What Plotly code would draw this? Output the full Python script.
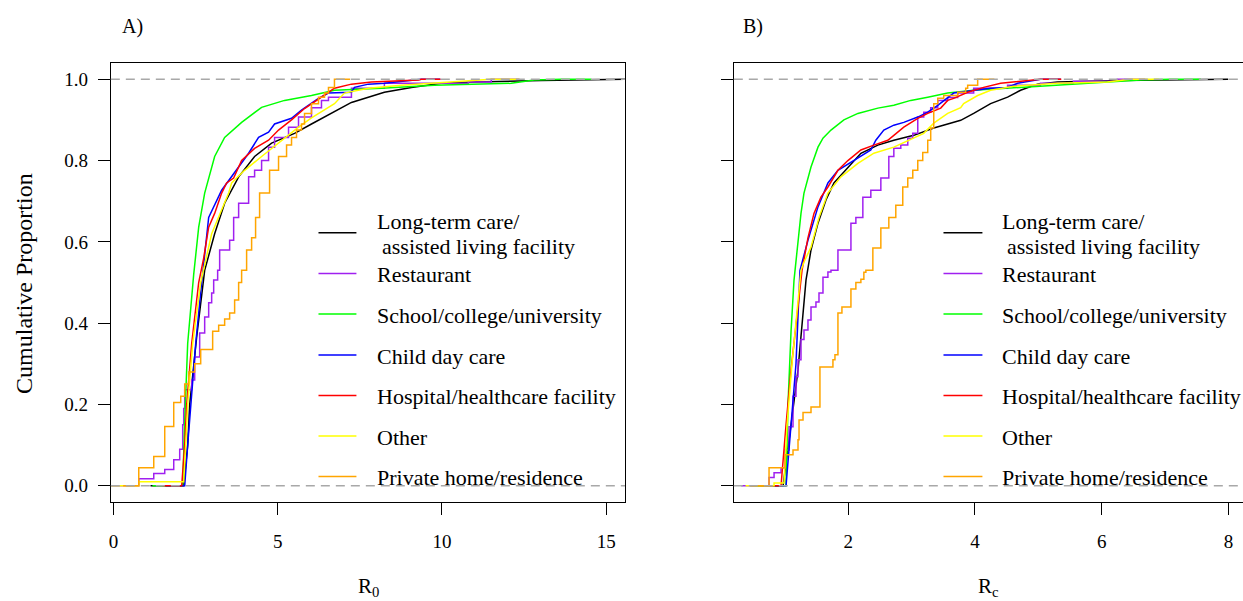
import plotly.graph_objects as go

W, H = 1243, 601
FONT = "Liberation Serif"

LABELS = ["Long-term care/", "Restaurant", "School/college/university", "Child day care",
          "Hospital/healthcare facility", "Other", "Private home/residence"]
LABEL_LINE2 = "assisted living facility"
COLORS = ["#000000", "#A020F0", "#00FF00", "#0000FF", "#FF0000", "#FFFF00", "#FFA500"]
SHAPES = ["linear", "hv", "linear", "linear", "linear", "linear", "hv"]

Y_TICKS = [0.0, 0.2, 0.4, 0.6, 0.8, 1.0]
Y_TICK_TEXT = ["0.0", "0.2", "0.4", "0.6", "0.8", "1.0"]
A_X_TICKS = [0, 5, 10, 15]
B_X_TICKS = [2, 4, 6, 8]

# ---------------- Panel A (R0) ----------------
A_LTC_X = [2.140, 2.261, 2.322, 2.535, 2.778, 3.082, 3.386, 3.812, 4.298, 4.815, 5.514, 6.030, 6.638, 7.246, 8.249, 9.070, 9.982, 10.985, 13.021, 14.784]
A_LTC_Y = [0.0, 0.10, 0.20, 0.366, 0.53, 0.62, 0.695, 0.76, 0.81, 0.843, 0.867, 0.89, 0.916, 0.943, 0.968, 0.98, 0.99, 0.993, 0.997, 1.0]

A_REST_X = [0.772, 1.228, 1.562, 1.836, 2.018, 2.109, 2.140, 2.170, 2.383, 2.474, 2.626, 2.778, 2.900, 2.991, 3.052, 3.173, 3.234, 3.538, 3.660, 3.812, 4.116, 4.298, 4.511, 4.723, 4.906, 5.331, 5.635, 6.030, 6.334, 6.547, 7.246, 8.249, 10.802, 11.502]
A_REST_Y = [0.017, 0.03, 0.04, 0.064, 0.09, 0.15, 0.19, 0.236, 0.26, 0.317, 0.376, 0.415, 0.45, 0.474, 0.506, 0.53, 0.58, 0.604, 0.66, 0.695, 0.76, 0.776, 0.80, 0.833, 0.857, 0.882, 0.907, 0.93, 0.948, 0.956, 0.978, 0.99, 0.993, 1.0]

A_SCH_X = [2.109, 2.170, 2.261, 2.444, 2.596, 2.778, 3.082, 3.386, 3.903, 4.511, 5.210, 6.030, 6.729, 8.158, 9.769, 12.109, 12.809, 13.629]
A_SCH_Y = [0.0, 0.16, 0.35, 0.52, 0.636, 0.72, 0.81, 0.857, 0.894, 0.931, 0.948, 0.96, 0.973, 0.978, 0.985, 0.99, 0.998, 1.0]

A_CDC_X = [2.170, 2.261, 2.353, 2.505, 2.687, 2.900, 3.295, 3.599, 4.116, 4.419, 4.723, 4.906, 5.422, 5.726, 6.243, 6.547, 7.246, 7.337, 7.763, 8.249, 9.283, 9.374]
A_CDC_Y = [0.0, 0.10, 0.20, 0.35, 0.50, 0.66, 0.727, 0.76, 0.818, 0.857, 0.87, 0.89, 0.904, 0.924, 0.953, 0.966, 0.968, 0.98, 0.988, 0.99, 0.998, 1.0]

A_HOSP_X = [2.079, 2.170, 2.231, 2.383, 2.596, 2.748, 2.900, 3.082, 3.295, 3.447, 3.660, 3.903, 4.298, 4.723, 5.027, 5.422, 5.818, 6.334, 6.729, 7.246, 7.854, 9.283, 9.374]
A_HOSP_Y = [0.0, 0.10, 0.20, 0.35, 0.50, 0.56, 0.636, 0.67, 0.72, 0.745, 0.757, 0.80, 0.83, 0.85, 0.875, 0.90, 0.928, 0.956, 0.978, 0.988, 0.993, 0.998, 1.0]

A_OTH_X = [0.772, 2.140, 2.201, 2.261, 2.413, 2.657, 2.991, 3.508, 3.599, 3.994, 4.511, 5.119, 5.635, 6.030, 6.426, 6.729, 7.033, 7.763, 8.766, 10.286, 11.502]
A_OTH_Y = [0.01, 0.01, 0.10, 0.20, 0.35, 0.50, 0.62, 0.72, 0.745, 0.776, 0.81, 0.85, 0.882, 0.905, 0.926, 0.94, 0.966, 0.978, 0.985, 0.993, 1.0]

A_PRIV_X = [0.772, 1.228, 1.562, 1.836, 2.049, 2.170, 2.292, 2.474, 2.657, 3.021, 3.204, 3.386, 3.538, 3.690, 3.812, 3.903, 4.055, 4.207, 4.328, 4.450, 4.754, 5.027, 5.271, 5.422, 5.574, 5.726, 5.818, 6.030, 6.243, 6.426, 6.547, 6.729]
A_PRIV_Y = [0.044, 0.072, 0.146, 0.205, 0.22, 0.25, 0.28, 0.30, 0.335, 0.38, 0.395, 0.41, 0.425, 0.457, 0.50, 0.53, 0.58, 0.61, 0.66, 0.72, 0.776, 0.81, 0.838, 0.857, 0.875, 0.89, 0.916, 0.94, 0.956, 0.966, 0.98, 1.0]

# ---------------- Panel B (Rc) ----------------
B_LTC_X = [0.972, 1.098, 1.208, 1.334, 1.413, 1.523, 1.649, 1.775, 1.995, 2.200, 2.468, 2.720, 3.035, 3.350, 3.570, 3.775, 3.980, 4.247, 4.515, 4.720, 4.987, 5.302, 6.294, 7.476]
B_LTC_Y = [0.0, 0.15, 0.285, 0.506, 0.58, 0.646, 0.703, 0.745, 0.784, 0.818, 0.838, 0.85, 0.862, 0.88, 0.89, 0.899, 0.916, 0.94, 0.956, 0.973, 0.988, 0.993, 0.997, 1.0]

B_REST_X = [0.751, 0.830, 0.940, 1.003, 1.066, 1.129, 1.176, 1.208, 1.255, 1.302, 1.365, 1.413, 1.491, 1.539, 1.602, 1.680, 1.728, 1.838, 2.043, 2.121, 2.231, 2.357, 2.515, 2.641, 2.720, 2.830, 2.940, 3.019, 3.098, 3.192, 3.302, 3.413, 3.570, 3.728, 3.980, 4.515, 5.035, 5.554, 6.247]
B_REST_Y = [0.02, 0.032, 0.044, 0.088, 0.145, 0.22, 0.268, 0.31, 0.36, 0.383, 0.408, 0.44, 0.452, 0.474, 0.513, 0.526, 0.53, 0.58, 0.646, 0.66, 0.71, 0.727, 0.757, 0.81, 0.83, 0.838, 0.855, 0.867, 0.907, 0.919, 0.93, 0.948, 0.955, 0.966, 0.978, 0.985, 0.99, 0.995, 1.0]

B_SCH_X = [1.019, 1.050, 1.098, 1.145, 1.208, 1.255, 1.302, 1.413, 1.523, 1.602, 1.728, 1.932, 2.153, 2.468, 2.720, 2.987, 3.255, 3.570, 3.980, 4.767, 5.554, 6.090, 6.609, 7.082]
B_SCH_Y = [0.0, 0.20, 0.38, 0.506, 0.597, 0.67, 0.72, 0.784, 0.833, 0.855, 0.875, 0.90, 0.916, 0.929, 0.936, 0.948, 0.956, 0.966, 0.973, 0.98, 0.988, 0.993, 0.998, 1.0]

B_CDC_X = [1.019, 1.098, 1.176, 1.239, 1.365, 1.523, 1.680, 1.838, 2.090, 2.357, 2.436, 2.562, 2.720, 2.877, 3.098, 3.255, 3.413, 3.570, 3.665, 4.247, 4.515, 4.672, 5.035]
B_CDC_Y = [0.0, 0.15, 0.30, 0.53, 0.604, 0.686, 0.745, 0.776, 0.80, 0.826, 0.85, 0.875, 0.887, 0.894, 0.907, 0.919, 0.936, 0.956, 0.966, 0.978, 0.98, 0.99, 1.0]

B_HOSP_X = [0.940, 1.019, 1.098, 1.271, 1.365, 1.460, 1.570, 1.680, 1.838, 1.995, 2.200, 2.405, 2.625, 2.720, 2.877, 3.098, 3.255, 3.460, 3.570, 3.665, 3.885, 4.137, 4.405, 5.035]
B_HOSP_Y = [0.0, 0.15, 0.285, 0.53, 0.61, 0.67, 0.71, 0.735, 0.776, 0.80, 0.826, 0.838, 0.85, 0.862, 0.882, 0.904, 0.916, 0.929, 0.948, 0.953, 0.968, 0.98, 0.99, 1.0]

B_OTH_X = [0.830, 0.987, 1.035, 1.113, 1.255, 1.302, 1.413, 1.539, 1.680, 1.885, 2.153, 2.405, 2.720, 3.035, 3.192, 3.350, 3.570, 3.775, 3.822, 4.043, 4.247, 4.609, 5.302, 6.090, 6.452]
B_OTH_Y = [0.007, 0.007, 0.15, 0.30, 0.53, 0.55, 0.587, 0.66, 0.72, 0.76, 0.793, 0.818, 0.833, 0.855, 0.867, 0.892, 0.916, 0.93, 0.94, 0.96, 0.973, 0.983, 0.99, 0.993, 1.0]

B_PRIV_X = [0.751, 1.003, 1.129, 1.208, 1.224, 1.287, 1.413, 1.554, 1.759, 1.791, 1.838, 1.901, 2.043, 2.121, 2.200, 2.247, 2.279, 2.389, 2.515, 2.641, 2.751, 2.861, 2.940, 3.019, 3.098, 3.176, 3.255, 3.302, 3.350, 3.413, 3.507, 3.728, 3.854, 3.885, 4.043]
B_PRIV_Y = [0.044, 0.076, 0.088, 0.113, 0.162, 0.18, 0.194, 0.292, 0.31, 0.322, 0.425, 0.44, 0.484, 0.50, 0.508, 0.525, 0.53, 0.585, 0.634, 0.66, 0.69, 0.735, 0.757, 0.776, 0.80, 0.82, 0.85, 0.88, 0.94, 0.953, 0.96, 0.968, 0.978, 0.985, 1.0]

PANEL_A = [(A_LTC_X, A_LTC_Y), (A_REST_X, A_REST_Y), (A_SCH_X, A_SCH_Y), (A_CDC_X, A_CDC_Y),
           (A_HOSP_X, A_HOSP_Y), (A_OTH_X, A_OTH_Y), (A_PRIV_X, A_PRIV_Y)]
PANEL_B = [(B_LTC_X, B_LTC_Y), (B_REST_X, B_REST_Y), (B_SCH_X, B_SCH_Y), (B_CDC_X, B_CDC_Y),
           (B_HOSP_X, B_HOSP_Y), (B_OTH_X, B_OTH_Y), (B_PRIV_X, B_PRIV_Y)]

# ---------------- layout geometry (pixels) ----------------
A_LEFT, A_RIGHT = 109, 624
B_LEFT, B_RIGHT = 733, 1243
P_TOP, P_BOTTOM = 63, 502
A_RANGE = [-0.079, 15.574]
B_RANGE = [0.195, 8.23]
Y_RANGE = [-0.04, 1.04]


def px(x):
    return x / W


def py(y):
    return 1 - y / H


fig = go.Figure()


def add_panel(series, xa, ya):
    for (xs, ys), color, shape in zip(series, COLORS, SHAPES):
        ext = 0.08 * (xs[-1] - xs[0])
        X = [xs[0] - ext]
        Y = [0.0]
        if ys[0] > 0 and shape == "linear":
            X.append(xs[0])
            Y.append(0.0)
        X += list(xs) + [xs[-1] + ext]
        Y += list(ys) + [1.0]
        fig.add_trace(go.Scatter(x=X, y=Y, mode="lines", xaxis=xa, yaxis=ya,
                                 line=dict(color=color, width=1.5, shape=shape),
                                 showlegend=False, hoverinfo="skip"))


add_panel(PANEL_A, "x", "y")
add_panel(PANEL_B, "x2", "y2")

font = dict(family=FONT, size=19, color="black")
axis_common = dict(showgrid=False, zeroline=False, linecolor="black", linewidth=1,
                   ticks="outside", ticklen=12, tickcolor="black", tickwidth=1,
                   tickfont=font)

fig.update_layout(
    width=W, height=H, margin=dict(l=0, r=0, t=0, b=0),
    paper_bgcolor="white", plot_bgcolor="white",
    xaxis=dict(domain=[px(A_LEFT), px(A_RIGHT)], range=A_RANGE, tickvals=A_X_TICKS,
               showline=True, mirror=True, anchor="y", ticklabelstandoff=10, **axis_common),
    yaxis=dict(domain=[py(P_BOTTOM), py(P_TOP)], range=Y_RANGE, tickvals=Y_TICKS,
               ticktext=Y_TICK_TEXT, showline=True, mirror=True, anchor="x",
               ticklabelstandoff=6, **axis_common),
    xaxis2=dict(domain=[px(B_LEFT), px(B_RIGHT)], range=B_RANGE, tickvals=B_X_TICKS,
                showline=True, mirror=True, anchor="y2", ticklabelstandoff=10, **axis_common),
    yaxis2=dict(domain=[py(P_BOTTOM), py(P_TOP)], range=Y_RANGE, tickvals=Y_TICKS,
                showticklabels=False, showline=True, mirror=False, anchor="x2", **axis_common),
)

# dashed reference lines at 0 and 1 (on top of curves)
for xr, yr in (("x domain", "y"), ("x2 domain", "y2")):
    for yv in (0.0, 1.0):
        fig.add_shape(type="line", xref=xr, yref=yr, x0=0, x1=1, y0=yv, y1=yv,
                      line=dict(color="#A8A8A8", width=1.5, dash="9px,6px"), layer="above")

# legends (drawn manually, no box)
LEG_SIZE = 22
LEG_LINE_Y = [232.7, 273.5, 314, 355, 395.5, 436, 476.5]
for (l0, l1, tx) in ((317, 355, 374), (943, 982, 1000)):
    for i, (lab, col) in enumerate(zip(LABELS, COLORS)):
        ly = LEG_LINE_Y[i]
        fig.add_shape(type="line", xref="paper", yref="paper", x0=px(l0), x1=px(l1),
                      y0=py(ly), y1=py(ly), line=dict(color=col, width=1.5))
        if i == 0:
            fig.add_annotation(x=px(tx), y=py(221), xref="paper", yref="paper", text=lab,
                               showarrow=False, xanchor="left", yanchor="middle",
                               font=dict(family=FONT, size=LEG_SIZE, color="black"))
            fig.add_annotation(x=px(tx + 5), y=py(246.5), xref="paper", yref="paper",
                               text=LABEL_LINE2, showarrow=False, xanchor="left",
                               yanchor="middle", font=dict(family=FONT, size=LEG_SIZE, color="black"))
        else:
            fig.add_annotation(x=px(tx), y=py(ly + 1), xref="paper", yref="paper", text=lab,
                               showarrow=False, xanchor="left", yanchor="middle",
                               font=dict(family=FONT, size=LEG_SIZE, color="black"))

# panel labels and axis titles
fig.add_annotation(x=px(118), y=py(27), xref="paper", yref="paper", text="A)",
                   showarrow=False, xanchor="left", yanchor="middle",
                   font=dict(family=FONT, size=20, color="black"))
fig.add_annotation(x=px(740), y=py(27), xref="paper", yref="paper", text="B)",
                   showarrow=False, xanchor="left", yanchor="middle",
                   font=dict(family=FONT, size=20, color="black"))
fig.add_annotation(x=px(367), y=py(587), xref="paper", yref="paper", text="R<sub>0</sub>",
                   showarrow=False, xanchor="center", yanchor="middle",
                   font=dict(family=FONT, size=21, color="black"))
fig.add_annotation(x=px(988), y=py(587), xref="paper", yref="paper", text="R<sub>c</sub>",
                   showarrow=False, xanchor="center", yanchor="middle",
                   font=dict(family=FONT, size=21, color="black"))
fig.add_annotation(x=px(22), y=py(283), xref="paper", yref="paper",
                   text="Cumulative Proportion", textangle=-90, showarrow=False,
                   xanchor="center", yanchor="middle",
                   font=dict(family=FONT, size=24, color="black"))

fig.write_html("out.html")
